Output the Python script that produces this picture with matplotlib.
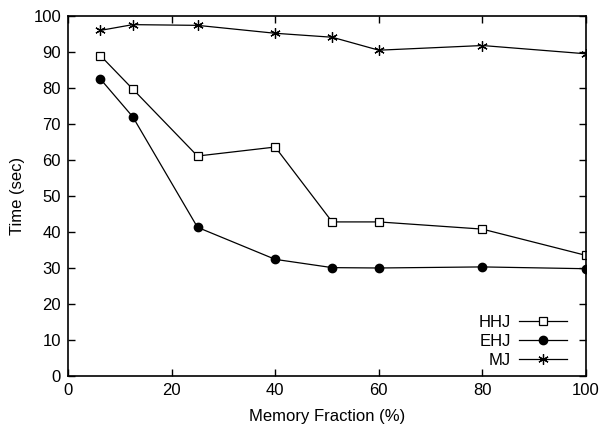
import matplotlib
matplotlib.use("Agg")
import matplotlib.pyplot as plt

plt.rcParams['font.family'] = ['Liberation Sans', 'DejaVu Sans']

# Memory fraction (%) on the x axis
memory_fraction = [6.25, 12.5, 25, 40, 51, 60, 80, 100]

# Times in seconds per join algorithm
hhj_time = [89.0, 79.7, 61.1, 63.6, 42.8, 42.8, 40.8, 33.5]
ehj_time = [82.5, 72.0, 41.3, 32.4, 30.1, 30.0, 30.3, 29.8]
mj_time = [96.0, 97.6, 97.4, 95.2, 94.1, 90.5, 91.8, 89.5]

fig = plt.figure(figsize=(6.03, 4.30), dpi=100)
ax = fig.add_axes([0.1128, 0.1256, 0.8590, 0.8372])

lw = 0.9
ax.plot(memory_fraction, hhj_time, color="black", lw=lw, marker="s", ms=5.5,
        mfc="white", mec="black", mew=0.9, label="HHJ")
ax.plot(memory_fraction, ehj_time, color="black", lw=lw, marker="o", ms=6,
        mfc="black", mec="black", label="EHJ")
ax.plot(memory_fraction, mj_time, color="black", lw=lw, marker=(6, 2, 0), ms=7.5,
        mec="black", mew=0.9, label="MJ")

ax.set_xlim(0, 100)
ax.set_ylim(0, 100)
ax.set_xticks(range(0, 101, 20))
ax.set_yticks(range(0, 101, 10))
ax.tick_params(direction="in", top=True, right=True, length=5, width=1,
               labelsize=12, pad=5)
for s in ax.spines.values():
    s.set_linewidth(1.2)

ax.set_xlabel("Memory Fraction (%)", fontsize=12, labelpad=8)
ax.set_ylabel("Time (sec)", fontsize=12, labelpad=6)

ax.legend(loc="lower right", frameon=False, markerfirst=False, fontsize=12,
          handlelength=2.9, handletextpad=0.5, labelspacing=0.22,
          borderaxespad=0.1, bbox_to_anchor=(0.98, 0.0))

fig.savefig("out.png", dpi=100)
